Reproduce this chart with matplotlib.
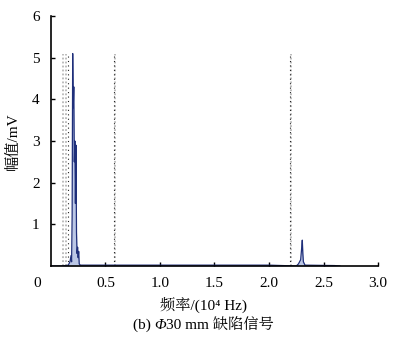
import matplotlib.pyplot as plt

FONTS = ['Liberation Serif', 'Noto Serif CJK SC', 'DejaVu Sans']
plt.rcParams['font.family'] = FONTS

# spectrum samples (frequency in 10^4 Hz, amplitude in mV)
freq = [0.0, 0.10, 0.16, 0.175, 0.185, 0.19, 0.195, 0.20, 0.205, 0.21, 0.215,
        0.22, 0.225, 0.23, 0.235, 0.24, 0.245, 0.25, 0.255, 0.26, 0.27, 0.30,
        0.60, 1.00, 1.50, 2.00, 2.25, 2.27, 2.29, 2.30, 2.305, 2.31, 2.315,
        2.33, 2.60, 2.65]
amp = [0.0, 0.0, 0.02, 0.1, 0.25, 0.1, 1.2, 5.1, 3.8, 4.3, 2.5,
       3.0, 1.5, 2.9, 0.8, 0.3, 0.45, 0.2, 0.35, 0.05, 0.02, 0.02,
       0.02, 0.02, 0.02, 0.02, 0.0, 0.05, 0.15, 0.45, 0.62, 0.3, 0.1,
       0.02, 0.01, 0.0]

# dotted marker lines
gray_lines = [0.11, 0.14, 0.585, 2.205]
black_lines = [0.16, 0.575, 2.195]
line_top = 5.1

xticks = [0.5, 1.0, 1.5, 2.0, 2.5, 3.0]
xticklabels = ['0.5', '1.0', '1.5', '2.0', '2.5', '3.0']
yticks = [1, 2, 3, 4, 5, 6]

fig = plt.figure(figsize=(4.07, 3.41), dpi=100)
ax = fig.add_axes([0.125, 0.22, 0.804, 0.733])

ax.vlines(gray_lines, 0, line_top, colors='#b8b8b8', linestyles=(0, (1, 1.2)), linewidth=1.3)
ax.vlines(black_lines, 0, line_top, colors='#222222', linestyles=(0, (1, 3)), linewidth=0.8)

ax.fill_between(freq, amp, color='#8fa3d6', alpha=0.6, linewidth=0)
ax.plot(freq, amp, color='#1f2f7a', linewidth=0.9)

ax.set_xlim(0, 3.0)
ax.set_ylim(0, 6)
ax.set_xticks(xticks)
ax.set_xticklabels(xticklabels)
ax.set_yticks(yticks)
ax.tick_params(direction='in', length=3, width=1, labelsize=11, pad=8)
ax.spines['top'].set_visible(False)
ax.spines['right'].set_visible(False)
ax.spines['left'].set_linewidth(1.2)
ax.spines['bottom'].set_linewidth(1.2)

ax.text(-0.13, -0.42, '0', fontsize=11, ha='center', va='center')
ax.set_ylabel('幅值/mV', fontsize=11, labelpad=9, family=FONTS)
fig.text(0.5, 0.105, '频率/(10⁴ Hz)', fontsize=11, ha='center', va='center', family=FONTS)

# caption with an italic Phi, built from three pieces and centred
renderer = fig.canvas.get_renderer()
parts = [('(b) ', 'normal'), ('Φ', 'italic'), ('30 mm 缺陷信号', 'normal')]
texts = [fig.text(0, 0.045, s, fontsize=11, style=st, ha='left', va='center', family=FONTS)
         for s, st in parts]
widths = [t.get_window_extent(renderer).width / fig.bbox.width for t in texts]
x = 0.5 - sum(widths) / 2
for t, w in zip(texts, widths):
    t.set_x(x)
    x += w

fig.savefig('out.png', dpi=100)
